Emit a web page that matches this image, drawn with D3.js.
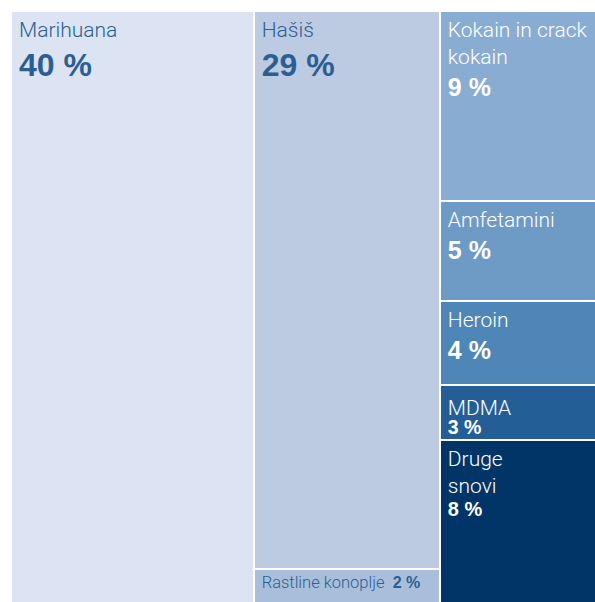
<!DOCTYPE html>
<html>
<head>
<meta charset="utf-8">
<script src="https://cdn.jsdelivr.net/npm/d3@7"></script>
<style>
  html, body { margin: 0; padding: 0; background: #fff; }
  svg { display: block; }
  .nm { font-family: Roboto, "Liberation Sans", Arial, sans-serif; font-weight: 300; }
  .pc { font-family: "Liberation Sans", Arial, sans-serif; font-weight: 700; }
</style>
</head>
<body>
<svg id="chart" width="595" height="602"></svg>
<script>
// ---- data ----
const columns   = ["c1", "c2", "c3"];
const categories = ["Marihuana", "Hašiš", "Rastline konoplje", "Kokain in crack kokain", "Amfetamini", "Heroin", "MDMA", "Druge snovi"];
const columnOf   = ["c1", "c2", "c2", "c3", "c3", "c3", "c3", "c3"];
const shareLabels = ["40 %", "29 %", "2 %", "9 %", "5 %", "4 %", "3 %", "8 %"];
// rectangle sizes (area share)
const areaValues = [41.5, 30.0, 1.84, 8.58, 4.50, 3.81, 2.48, 7.34];
const nameLines  = [["Marihuana"], ["Hašiš"], ["Rastline konoplje"], ["Kokain in crack", "kokain"], ["Amfetamini"], ["Heroin"], ["MDMA"], ["Druge", "snovi"]];
const fills      = ["#dce3f2", "#bdcbe2", "#a9bedb", "#89add2", "#6d9bc6", "#4f86b8", "#245e97", "#023567"];
const textColors = ["#2b5f93", "#2b5f93", "#2b5f93", "#ffffff", "#ffffff", "#ffffff", "#ffffff", "#ffffff"];

// ---- hierarchy ----
const rootData = {
  name: "root",
  children: columns.map(c => ({
    name: c,
    children: categories.map((n, i) => ({ i, name: n, value: areaValues[i] })).filter(d => columnOf[d.i] === c)
  }))
};

const W = 583, H = 590, X0 = 12, Y0 = 12;
const root = d3.hierarchy(rootData).sum(d => d.value || 0);
d3.treemap()
  .size([W, H])
  .paddingInner(2)
  .round(false)
  .tile((node, x0, y0, x1, y1) => {
    if (node.depth === 0) d3.treemapDice(node, x0, y0, x1, y1);
    else d3.treemapSlice(node, x0, y0, x1, y1);
  })(root);

const svg = d3.select("#chart");
const g = svg.append("g").attr("transform", `translate(${X0},${Y0})`);

const leaves = g.selectAll("g.leaf").data(root.leaves()).join("g")
  .attr("class", "leaf")
  .attr("transform", d => `translate(${d.x0},${d.y0})`);

leaves.append("rect")
  .attr("width", d => d.x1 - d.x0)
  .attr("height", d => d.y1 - d.y0)
  .attr("fill", d => fills[d.data.i])
  .attr("shape-rendering", "crispEdges");

leaves.each(function(d) {
  const i = d.data.i;
  const sel = d3.select(this);
  const col = textColors[i];
  const name = categories[i];
  if (name === "Rastline konoplje") {
    sel.append("text").attr("class", "nm").attr("x", 7).attr("y", 18).attr("fill", col)
      .attr("font-size", 16.5).text(nameLines[i][0]);
    sel.append("text").attr("class", "pc").attr("x", 138).attr("y", 18).attr("fill", col)
      .attr("font-size", 16).text(shareLabels[i]);
    return;
  }
  const big = (i === 0 || i === 1);
  const lineH = 26.5;
  const nameY = name === "MDMA" ? 29 : 25;
  nameLines[i].forEach((ln, k) => {
    sel.append("text")
      .attr("class", "nm")
      .attr("x", 7).attr("y", nameY + k * lineH)
      .attr("fill", col)
      .attr("font-size", 21)
      .text(ln);
  });
  const nL = nameLines[i].length;
  let py, fs;
  if (big) { py = 64; fs = 32; }
  else if (name === "MDMA") { py = 48; fs = 19.5; }
  else if (name === "Druge snovi") { py = 75; fs = 20; }
  else { py = 25 + (nL - 1) * lineH + 32; fs = 25; }
  sel.append("text")
    .attr("class", "pc")
    .attr("x", 7).attr("y", py)
    .attr("fill", col)
    .attr("font-size", fs)
    .text(shareLabels[i]);
});
</script>
</body>
</html>
